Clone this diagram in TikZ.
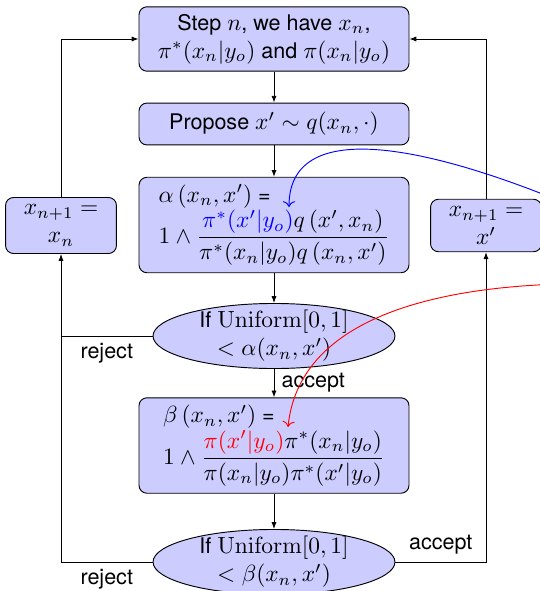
\documentclass[tikz,border=0pt]{standalone}
\usepackage[no-math]{fontspec}
\setmainfont{TeX Gyre Heros}[Scale=0.92]
\usepackage{amsmath}
\usetikzlibrary{shapes.geometric,arrows.meta}

\begin{document}
\begin{tikzpicture}[x=0.4274pt,y=-0.4274pt,
  box/.style={draw, fill=blue!20, rounded corners=3.4pt, minimum width=115.4pt, align=center},
  smallbox/.style={draw, fill=blue!20, rounded corners=3.4pt, minimum width=47.4pt, minimum height=21.8pt, align=center},
  test/.style={draw, fill=blue!20, ellipse, inner xsep=0pt, inner ysep=-2pt,
               minimum width=103.4pt, minimum height=27.8pt, align=center},
  arr/.style={-{Latex[length=2.9pt,width=2.2pt]}},
  note/.style={->}
]
\useasboundingbox (0,0) rectangle (539,591);

% main column
\node[box, minimum height=25.6pt] (step) at (274,39)
  {Step $n$, we have $x_n$,\\ $\pi^*(x_n|y_o)$ and $\pi(x_n|y_o)$};
\node[box, minimum height=17.9pt] (prop) at (274,124)
  {Propose $x' \sim q(x_n,\cdot)$};
\node[box, minimum height=40.2pt, align=left] (alpha) at (274,225)
  {$\alpha\left(x_n,x'\right)$ =\\
   $1\wedge\dfrac{\textcolor{blue}{\pi^*(x'|y_o)}q\left(x',x_n\right)}{\pi^*(x_n|y_o)q\left(x_n,x'\right)}$};
\node[test] (testa) at (274,336)
  {If $\mathrm{Uniform}[0,1]$\\ $<\alpha(x_n,x')$};
\node[box, minimum height=40.6pt, align=left] (beta) at (274,445.5)
  {$\beta\left(x_n,x'\right)$ =\\
   $1\wedge\dfrac{\textcolor{red}{\pi(x'|y_o)}\pi^*(x_n|y_o)}{\pi(x_n|y_o)\pi^*(x'|y_o)}$};
\node[test] (testb) at (274,562)
  {If $\mathrm{Uniform}[0,1]$\\ $<\beta(x_n,x')$};

% update boxes
\node[smallbox] (keep) at (61,225.5) {$x_{n+1} =$\\ $x_n$};
\node[smallbox] (move) at (486,225.5) {$x_{n+1} =$\\ $x'$};

% flow
\draw[arr] (step) -- (prop);
\draw[arr] (prop) -- (alpha);
\draw[arr] (alpha) -- (testa);
\draw[arr] (testa) -- node[right] {accept} (beta);
\draw[arr] (beta) -- (testb);

\draw[arr] (testa.west) -- node[below] {reject} (testa.west -| keep) -- (keep.south);
\draw (testb.west) -- node[below] {reject} (testb.west -| keep) -- (testa.west -| keep);
\draw[arr] (testb.east) -- node[above] {accept} (testb.east -| move) -- (move.south);

\draw[arr] (keep.north) |- (step.west);
\draw[arr] (move.north) |- (step.east);

% pointers to the changed terms
\coordinate (bluesrc) at (560,201);
\coordinate (bluetip) at (289,207);
\coordinate (redsrc) at (560,284);
\coordinate (redtip) at (288,427);
\draw[note, blue] (bluesrc) .. controls (440,152) and (289,112) .. (bluetip);
\draw[note, red] (redsrc) .. controls (430,288) and (299,320) .. (redtip);
\end{tikzpicture}
\end{document}
